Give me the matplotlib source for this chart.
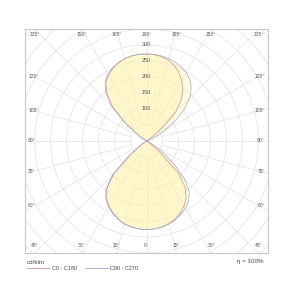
import numpy as np
import matplotlib
matplotlib.use("Agg")
import matplotlib.pyplot as plt
from matplotlib.lines import Line2D

plt.rcParams['font.family'] = ['Liberation Sans', 'DejaVu Sans']

# gamma angles (deg, 0 = straight down, 180 = straight up)
gamma = list(range(0, 181, 5))

# luminous intensity in cd/klm
c0 = [277, 276, 273, 268, 260, 249, 235, 216, 188, 140, 60, 15, 0, 0, 0, 0, 0, 0, 0,
      0, 0, 0, 0, 0, 0, 20, 70, 130, 170, 198, 220, 238, 252, 262, 268, 271, 272]
c180 = [277, 276, 273, 268, 259, 248, 235, 217, 192, 145, 65, 18, 0, 0, 0, 0, 0, 0, 0,
        0, 0, 0, 0, 0, 0, 25, 85, 150, 192, 222, 238, 250, 259, 266, 270, 272, 272]
c90 = [277, 276, 274, 269, 263, 254, 243, 230, 208, 168, 115, 65, 28, 8, 0, 0, 0, 0, 0,
       0, 0, 0, 8, 30, 65, 110, 155, 192, 218, 236, 248, 256, 262, 267, 270, 272, 272]
c270 = [277, 276, 273, 268, 260, 250, 238, 222, 197, 150, 70, 20, 0, 0, 0, 0, 0, 0, 0,
        0, 0, 0, 0, 0, 0, 30, 90, 155, 198, 226, 241, 252, 260, 266, 270, 272, 272]

series_labels = ["C0 - C180", "C90 - C270"]
radial_ticks = [100, 150, 200, 250, 300]
angle_ticks = [0, 15, 30, 45, 60, 75, 90, 105, 120, 135, 150, 165, 180]
units_label = "cd/klm"
eff_label = "η = 100%"

red = '#cf9090'
blue = '#9eaad0'
fillc = '#fff2a8'
gridc = '#e6e6e6'
txtc = '#5a5a5a'

fig = plt.figure(figsize=(3, 3), dpi=100)
ax = fig.add_axes([25/300, 47/300, 243/300, 224/300])
XL, YL = 380, 350
ax.set_xlim(-XL, XL)
ax.set_ylim(-YL, YL)
ax.set_xticks([])
ax.set_yticks([])
for s in ax.spines.values():
    s.set_color('#c8c8c8')
    s.set_linewidth(0.8)

# grid circles
t = np.linspace(0, 2*np.pi, 361)
for r in range(50, 551, 50):
    ax.plot(r*np.cos(t), r*np.sin(t), color=gridc, lw=0.6, zorder=1)
# spokes
for a in range(0, 360, 15):
    ar = np.radians(a)
    ax.plot([50*np.sin(ar), 700*np.sin(ar)], [-50*np.cos(ar), -700*np.cos(ar)],
            color=gridc, lw=0.6, zorder=1)


def curve(right, left):
    g = np.radians(np.array(gamma, dtype=float))
    rr = np.array(right, dtype=float)
    ll = np.array(left, dtype=float)
    xr, yr = rr*np.sin(g), -rr*np.cos(g)
    xl, yl = -ll[::-1]*np.sin(g[::-1]), -ll[::-1]*np.cos(g[::-1])
    return np.concatenate([xr, xl]), np.concatenate([yr, yl])


for (rt, lt), col in [((c0, c180), red), ((c90, c270), blue)]:
    x, y = curve(rt, lt)
    ax.fill(x, y, color=fillc, alpha=0.35, lw=0, zorder=2)
    ax.plot(x, y, color=col, lw=0.5, zorder=3)

# radial labels
for r in radial_ticks:
    ax.text(0, r, str(r), ha='center', va='center', fontsize=4, color=txtc, zorder=4)

# angle labels
for a in angle_ticks:
    if a in (0, 15, 30, 45):
        tn = np.tan(np.radians(a))
        for sgn in ([1] if a == 0 else [-1, 1]):
            ax.text(sgn*350*tn, -328, f"{a}°", ha='center', va='center', fontsize=3.6, color=txtc)
    elif a in (135, 150, 165, 180):
        tn = np.tan(np.radians(180 - a))
        for sgn in ([1] if a == 180 else [-1, 1]):
            ax.text(sgn*350*tn, 334, f"{a}°", ha='center', va='center', fontsize=3.6, color=txtc)
    else:
        yy = 350*np.tan(np.radians(a - 90))
        ax.text(-370, yy, f"{a}°", ha='left', va='center', fontsize=3.6, color=txtc)
        ax.text(370, yy, f"{a}°", ha='right', va='center', fontsize=3.6, color=txtc)

fig.text(27/300, 1 - 262/300, units_label, ha='left', va='center', fontsize=4.5, color='#444444')
fig.text(264/300, 1 - 262/300, eff_label, ha='right', va='center', fontsize=4.5, color='#444444')

handles = [Line2D([], [], color=red, lw=0.6), Line2D([], [], color=blue, lw=0.6)]
fig.legend(handles, series_labels, loc='center left', bbox_to_anchor=(27/300, 1 - 268/300),
           ncol=2, frameon=False, fontsize=4, handlelength=4, handletextpad=0.5,
           columnspacing=1.5, labelcolor='#444444', borderaxespad=0, borderpad=0)

fig.savefig("out.png", dpi=100)
